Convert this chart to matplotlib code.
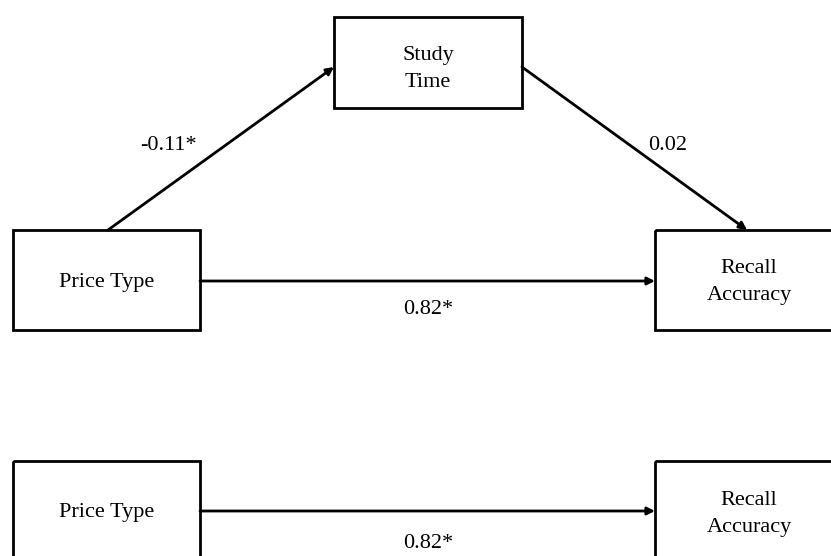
import matplotlib.pyplot as plt
from matplotlib.patches import Rectangle

# --- Diagram content ---
node_labels = ['Price Type', 'Study\nTime', 'Recall\nAccuracy', 'Price Type', 'Recall\nAccuracy']
path_labels = ['-0.11*', '0.02', '0.82*', '0.82*']

# --- Layout (pixel coordinates, y grows downwards) ---
# box: (left, top, width, height), text centre
node_boxes = [(13, 230, 187, 100), (334, 17, 188, 91), (655, 230, 190, 100),
              (13, 461, 187, 110), (655, 461, 190, 110)]
node_text_pos = [(107, 283), (428, 69), (749, 282), (107, 513), (749, 514)]
# arrows: (start, end) and where the coefficient goes
paths = [((108, 230), (334, 67)), ((522, 67), (747, 230)),
         ((200, 281), (655, 281)), ((200, 511), (655, 511))]
path_text_pos = [(168, 145), (668, 145), (428, 309), (428, 544)]

FONT = 'Liberation Serif'
LW = 2.0

fig = plt.figure(figsize=(8.31, 5.56), dpi=100)
ax = fig.add_axes([0, 0, 1, 1])
ax.set_xlim(0, 831)
ax.set_ylim(556, 0)
ax.axis('off')

for (x, y, w, h), (tx, ty), label in zip(node_boxes, node_text_pos, node_labels):
    ax.add_patch(Rectangle((x, y), w, h, fill=False, edgecolor='black', lw=LW))
    ax.text(tx, ty, label, ha='center', va='center', family=FONT, fontsize=16,
            linespacing=1.6)

for (start, end), (tx, ty), label in zip(paths, path_text_pos, path_labels):
    ax.annotate('', xy=end, xytext=start,
                arrowprops=dict(arrowstyle='-|>', color='black', lw=LW,
                                mutation_scale=11, shrinkA=0, shrinkB=0))
    ax.text(tx, ty, label, ha='center', va='center', family=FONT, fontsize=16)

fig.savefig('out.png', dpi=100)
